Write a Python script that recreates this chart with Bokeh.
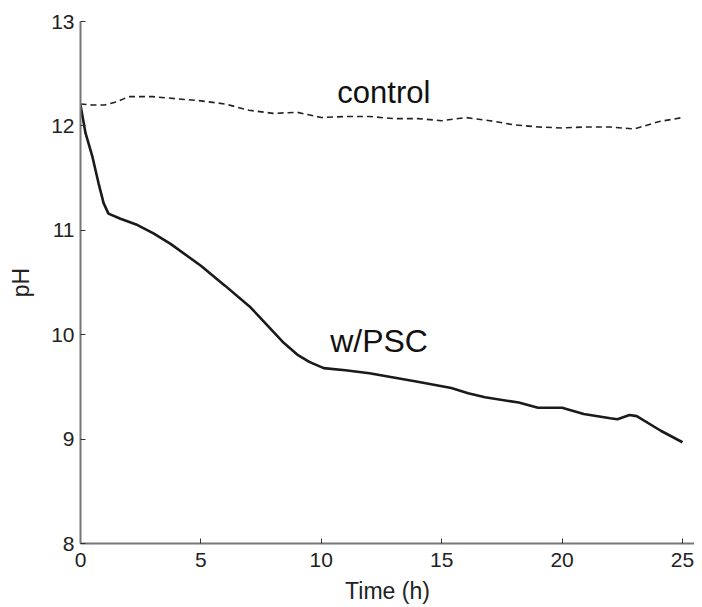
from bokeh.plotting import figure
from bokeh.embed import file_html
from bokeh.resources import INLINE
from bokeh.models import Range1d, FixedTicker, Label

# ---- data ----
control_t = [0, 0.5, 1, 1.5, 2, 3, 4, 5, 6, 7, 8, 9, 10, 11, 12, 13, 14, 15,
             16, 17, 18, 19, 20, 21, 22, 23, 24, 25]
control_ph = [12.21, 12.20, 12.20, 12.23, 12.28, 12.28, 12.26, 12.24, 12.21,
              12.15, 12.12, 12.13, 12.08, 12.09, 12.09, 12.07, 12.07, 12.05,
              12.08, 12.05, 12.01, 11.99, 11.98, 11.99, 11.99, 11.97, 12.04, 12.08]

psc_t = [0, 0.21, 0.5, 0.75, 0.96, 1.16, 1.66, 2.37, 3.03, 3.74, 5, 6, 7.07,
         8.45, 9, 9.5, 10.1, 11, 12, 13, 14, 15.4, 16.1, 16.8, 18.2, 19.0,
         20.0, 20.9, 22.0, 22.3, 22.8, 23.1, 24.1, 25.0]
psc_ph = [12.20, 11.93, 11.70, 11.45, 11.26, 11.16, 11.11, 11.05, 10.97, 10.87,
          10.66, 10.47, 10.26, 9.92, 9.81, 9.74, 9.68, 9.66, 9.63, 9.59, 9.55,
          9.49, 9.44, 9.40, 9.35, 9.30, 9.30, 9.24, 9.20, 9.19, 9.23, 9.22,
          9.08, 8.97]

x_ticks = [0, 5, 10, 15, 20, 25]
y_ticks = [8, 9, 10, 11, 12, 13]

FONT = "Liberation Sans"

p = figure(frame_width=614, frame_height=522, output_backend="svg",
           toolbar_location=None,
           x_range=Range1d(0, 25.5), y_range=Range1d(8, 13),
           min_border_left=80, min_border_top=21, min_border_bottom=60,
           min_border_right=0)

p.grid.visible = False
p.outline_line_color = None
p.background_fill_color = "white"

p.line(control_t, control_ph, line_color="#222222", line_width=1.6,
       line_dash="6 4")
p.line(psc_t, psc_ph, line_color="#1a1a1a", line_width=2.6)

p.add_layout(Label(x=12.6, y=12.32, text="control", text_align="center",
                   text_baseline="middle", text_font=FONT,
                   text_font_size="31px", text_color="#111111"))
p.add_layout(Label(x=12.4, y=9.94, text="w/PSC", text_align="center",
                   text_baseline="middle", text_font=FONT,
                   text_font_size="32px", text_color="#111111"))

for ax in (p.xaxis[0], p.yaxis[0]):
    ax.axis_line_color = "#777777"
    ax.axis_line_width = 2
    ax.major_tick_line_color = "#333333"
    ax.major_tick_in = 5
    ax.major_tick_out = 0
    ax.minor_tick_line_color = None
    ax.major_label_text_font = FONT
    ax.major_label_text_font_size = "21px"
    ax.major_label_text_color = "#222222"
    ax.axis_label_text_font = FONT
    ax.axis_label_text_font_size = "23px"
    ax.axis_label_text_font_style = "normal"
    ax.axis_label_text_color = "#222222"

p.xaxis.ticker = FixedTicker(ticks=x_ticks)
p.yaxis.ticker = FixedTicker(ticks=y_ticks)
p.xaxis.axis_label = "Time (h)"
p.yaxis.axis_label = "pH"
p.xaxis.major_label_standoff = 9
p.xaxis.axis_label_standoff = 8
p.yaxis.major_label_standoff = 6
p.yaxis.axis_label_standoff = 14

open("out.html", "w").write(file_html(p, INLINE))
